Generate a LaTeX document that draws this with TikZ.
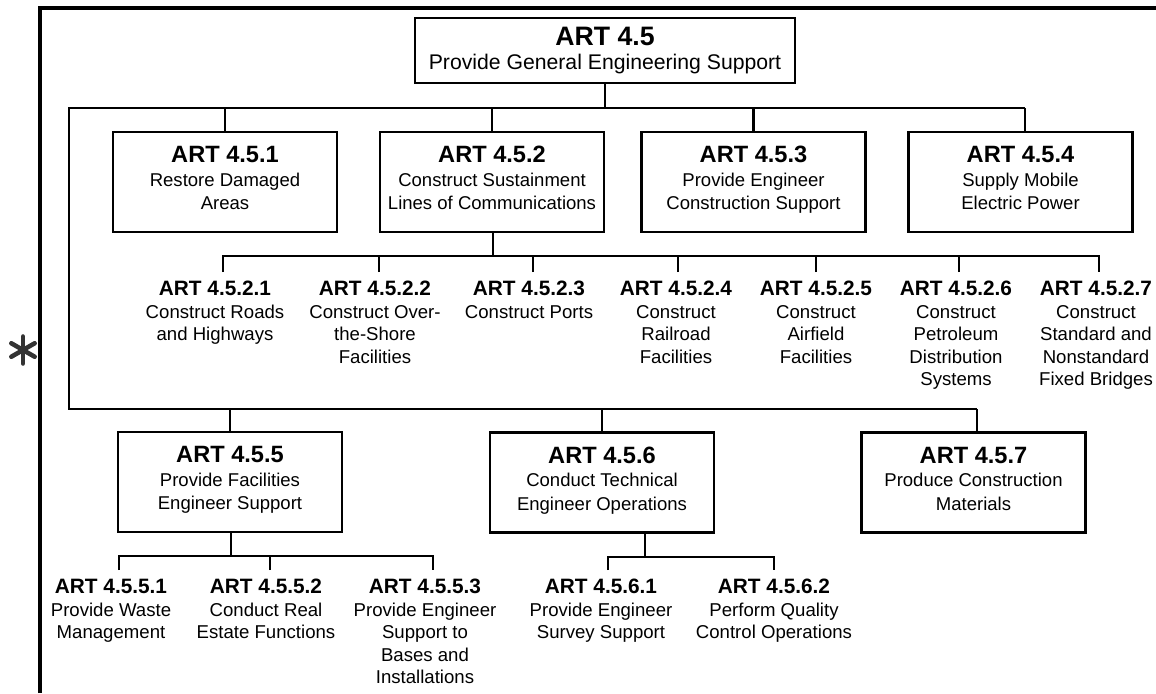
\documentclass[tikz,border=0pt]{standalone}
\usepackage{fontspec}
\setmainfont{Liberation Sans}
\newcommand\TopHead[1]{{\bfseries\fontsize{20}{18}\selectfont #1}}
\newcommand\BoxHead[1]{{\bfseries\fontsize{17.7}{17.6}\selectfont #1}}
\newcommand\LeafHead[1]{{\bfseries\fontsize{15.6}{16.9}\selectfont #1}}
\newcommand\DepthFix{\rule[-6pt]{0pt}{6pt}}
\begin{document}
\begin{tikzpicture}[x=0.75pt,y=-0.75pt,
  conn/.style={line width=2pt},
  frameline/.style={line width=2.4pt},
  box/.style={draw,line width=2.1pt,minimum width=168pt,minimum height=75pt,inner sep=0pt,align=center,font=\fontsize{13.9}{17.6}\selectfont},
  topbox/.style={draw,line width=2.1pt,minimum width=285pt,minimum height=48.75pt,inner sep=0pt,align=center,font=\fontsize{15.9}{18}\selectfont},
  leaf/.style={anchor=north,inner sep=0pt,align=center,font=\fontsize{13.95}{16.9}\selectfont}]
\useasboundingbox (0,0) rectangle (1156,693);
% frame
\draw[frameline] (40,693) -- (40,8) -- (1156,8);
% asterisk
\foreach \a in {90,30,-30}
  \draw[line width=3.4pt,line cap=round,color=black!80] (23,350) ++(\a:13.5) -- ++(\a+180:27);
% boxes
\node[topbox] (n45) at (605,50.5) {\TopHead{ART 4.5}\\Provide General Engineering Support\rule[-4pt]{0pt}{4pt}};
\node[box] (n451) at (225,182) {\BoxHead{ART 4.5.1}\\Restore Damaged\\Areas\DepthFix};
\node[box] (n452) at (492,182) {\BoxHead{ART 4.5.2}\\Construct Sustainment\\Lines of Communications\DepthFix};
\node[box] (n453) at (753.5,182) {\BoxHead{ART 4.5.3}\\Provide Engineer\\Construction Support\DepthFix};
\node[box] (n454) at (1020.5,182) {\BoxHead{ART 4.5.4}\\Supply Mobile\\Electric Power\DepthFix};
\node[box] (n455) at (230,482) {\BoxHead{ART 4.5.5}\\Provide Facilities\\Engineer Support\DepthFix};
\node[box] (n456) at (602,482.5) {\BoxHead{ART 4.5.6}\\Conduct Technical\\Engineer Operations\DepthFix};
\node[box] (n457) at (973.5,482.5) {\BoxHead{ART 4.5.7}\\Produce Construction\\Materials\DepthFix};
% leaves under 4.5.2
\node[leaf] (n4521) at (215,281) {\LeafHead{ART 4.5.2.1}\\Construct Roads\\and Highways};
\node[leaf] (n4522) at (375,281) {\LeafHead{ART 4.5.2.2}\\Construct Over-\\the-Shore\\Facilities};
\node[leaf] (n4523) at (529,281) {\LeafHead{ART 4.5.2.3}\\Construct Ports};
\node[leaf] (n4524) at (676,281) {\LeafHead{ART 4.5.2.4}\\Construct\\Railroad\\Facilities};
\node[leaf] (n4525) at (816,281) {\LeafHead{ART 4.5.2.5}\\Construct\\Airfield\\Facilities};
\node[leaf] (n4526) at (956,281) {\LeafHead{ART 4.5.2.6}\\Construct\\Petroleum\\Distribution\\Systems};
\node[leaf] (n4527) at (1096,281) {\LeafHead{ART 4.5.2.7}\\Construct\\Standard and\\Nonstandard\\Fixed Bridges};
% leaves under 4.5.5 and 4.5.6
\node[leaf] (n4551) at (111,579) {\LeafHead{ART 4.5.5.1}\\Provide Waste\\Management};
\node[leaf] (n4552) at (266,579) {\LeafHead{ART 4.5.5.2}\\Conduct Real\\Estate Functions};
\node[leaf] (n4553) at (425,579) {\LeafHead{ART 4.5.5.3}\\Provide Engineer\\Support to\\Bases and\\Installations};
\node[leaf] (n4561) at (601,579) {\LeafHead{ART 4.5.6.1}\\Provide Engineer\\Survey Support};
\node[leaf] (n4562) at (774,579) {\LeafHead{ART 4.5.6.2}\\Perform Quality\\Control Operations};
% main buses
\coordinate (a1) at (69,108);
\coordinate (a2) at (1025,108);
\coordinate (a3) at (69,409);
\coordinate (a4) at (977,409);
\draw[conn] (n45.south) -- (n45.south |- a1);
\draw[conn] (a2) -- (a1) -- (a3) -- (a4);
\draw[conn] (a2) -- (n454.north -| a2);
\foreach \n in {n451,n452,n453} \draw[conn] (\n.north |- a1) -- (\n.north);
\draw[conn] (a4) -- (n457.north -| a4);
\foreach \n in {n455,n456} \draw[conn] (\n.north |- a3) -- (\n.north);
% bus under 4.5.2
\coordinate (j452) at (493,256);
\coordinate (t4521) at (223,272);
\coordinate (t4522) at (379,272);
\coordinate (t4523) at (533,272);
\coordinate (t4524) at (678,272);
\coordinate (t4525) at (816,272);
\coordinate (t4526) at (959,272);
\coordinate (t4527) at (1099,272);
\draw[conn] (n452.south -| j452) -- (j452);
\draw[conn] (t4521) |- (j452) -| (t4527);
\foreach \t in {t4522,t4523,t4524,t4525,t4526} \draw[conn] (\t) -- (\t |- j452);
% bus under 4.5.5
\coordinate (j455) at (231,556);
\coordinate (t4551) at (119,570);
\coordinate (t4552) at (270,570);
\coordinate (t4553) at (433,570);
\draw[conn] (n455.south -| j455) -- (j455);
\draw[conn] (t4551) |- (j455) -| (t4553);
\draw[conn] (t4552) -- (t4552 |- j455);
% bus under 4.5.6
\coordinate (j456) at (645,557);
\coordinate (t4561) at (608,570);
\coordinate (t4562) at (774,570);
\draw[conn] (n456.south -| j456) -- (j456);
\draw[conn] (t4561) |- (j456) -| (t4562);
\end{tikzpicture}
\end{document}
